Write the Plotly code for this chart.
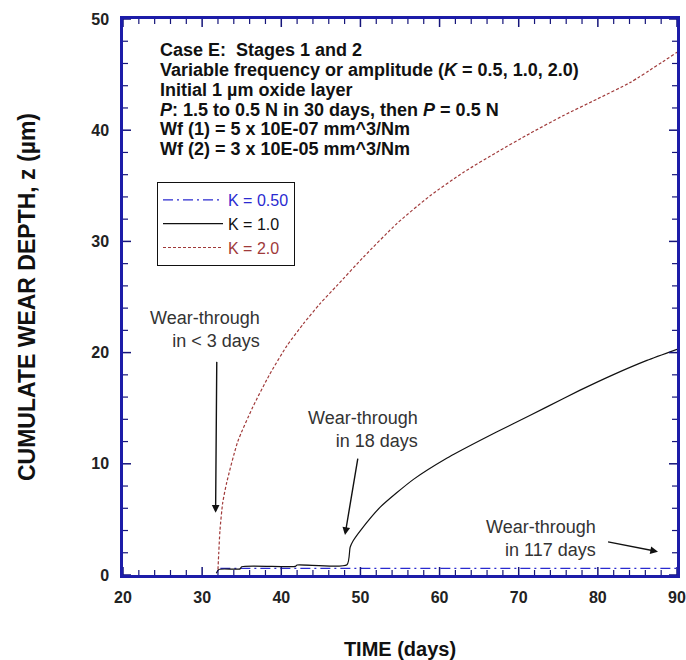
import plotly.graph_objects as go

# ---- data ----
k05_x = [32.3, 90.0]
k05_y = [0.6, 0.6]

k10_x = [31.8, 32.1, 34.8, 35.0, 41.8, 42.0, 48.3, 48.7, 49.1, 50.0, 52.5, 56.7,
         60.9, 65.1, 69.3, 73.5, 77.7, 81.9, 86.2, 90.0]
k10_y = [0.15, 0.5, 0.55, 0.75, 0.78, 0.9, 0.92, 2.5, 3.1, 4.0, 6.1, 8.6,
         10.5, 12.1, 13.6, 15.1, 16.6, 18.0, 19.3, 20.3]

k20_x = [32.0, 32.1, 32.25, 32.6, 33.1, 34.5, 36.4, 38.5, 40.7, 42.8, 44.9, 47.0,
         50.4, 54.6, 58.8, 63.0, 67.2, 71.4, 75.6, 79.9, 84.1, 90.0]
k20_y = [0.5, 2.0, 4.0, 6.5, 8.3, 12.0, 15.1, 18.0, 20.6, 22.6, 24.4, 26.0,
         28.6, 31.6, 34.1, 36.2, 38.0, 39.7, 41.3, 42.8, 44.3, 47.0]

series_names = ["K = 0.50", "K = 1.0", "K = 2.0"]

x_range = [20, 90]
y_range = [0, 50]
x_major = [20, 30, 40, 50, 60, 70, 80, 90]
x_minor = [v for v in range(20, 91, 2) if v not in x_major]
y_major = [0, 10, 20, 30, 40, 50]
y_minor = [v for v in range(0, 51, 2) if v not in y_major]

info_lines = [
    "Case E:  Stages 1 and 2",
    "Variable frequency or amplitude (<i>K</i> = 0.5, 1.0, 2.0)",
    "Initial 1 µm oxide layer",
    "<i>P</i>: 1.5 to 0.5 N in 30 days, then <i>P</i> = 0.5 N",
    "Wf (1) = 5 x 10E-07 mm^3/Nm",
    "Wf (2) = 3 x 10E-05 mm^3/Nm",
]

notes = ["Wear-through<br>in < 3 days", "Wear-through<br>in 18 days", "Wear-through<br>in 117 days"]
note_x = [37.6, 57.5, 80.0]
note_y = [22.1, 13.1, 3.3]
arrow_tail_x = [31.85, 49.7, 81.1]
arrow_tail_y = [19.3, 10.6, 3.0]
arrow_head_x = [31.7, 48.05, 87.6]
arrow_head_y = [5.6, 3.6, 2.1]

FONT = "Liberation Sans, Arial, Helvetica, sans-serif"
AXIS_BLUE = "#1c1ca8"
TICK_COL = "#15157a"
BLUE = "#2a2ad0"
RED = "#a03a3a"

W, H = 686, 660
M = dict(l=123, r=9, t=19, b=85)
plot_w = W - M["l"] - M["r"]
plot_h = H - M["t"] - M["b"]
ux = (x_range[1] - x_range[0]) / plot_w   # data units per pixel
uy = (y_range[1] - y_range[0]) / plot_h

fig = go.Figure()
fig.add_trace(go.Scatter(
    x=k05_x, y=k05_y, mode="lines",
    name=f"<span style='color:{BLUE}'>{series_names[0]}</span>",
    line=dict(color=BLUE, width=1.3, dash="10px,4px,2px,4px")))
fig.add_trace(go.Scatter(
    x=k10_x, y=k10_y, mode="lines",
    name=f"<span style='color:#111111'>{series_names[1]}</span>",
    line=dict(color="#111111", width=1.2, shape="spline", smoothing=0.6)))
fig.add_trace(go.Scatter(
    x=k20_x, y=k20_y, mode="lines",
    name=f"<span style='color:{RED}'>{series_names[2]}</span>",
    line=dict(color=RED, width=1.2, dash="3px,2px", shape="spline", smoothing=0.6)))


def tick_segments(xv, yv, length_px):
    tx, ty = [], []
    dy = length_px * uy
    dx = length_px * ux
    for v in xv:
        tx += [v, v, None, v, v, None]
        ty += [y_range[0], y_range[0] + dy, None, y_range[1] - dy, y_range[1], None]
    for v in yv:
        tx += [x_range[0], x_range[0] + dx, None, x_range[1] - dx, x_range[1], None]
        ty += [v, v, None, v, v, None]
    return tx, ty


for xv, yv, ln, w in [(x_major, y_major, 8, 1.5), (x_minor, y_minor, 5, 1.2)]:
    tx, ty = tick_segments(xv, yv, ln)
    fig.add_trace(go.Scatter(x=tx, y=ty, mode="lines", showlegend=False,
                             hoverinfo="skip", line=dict(color=TICK_COL, width=w)))

ann = []
line_px = [50, 70, 90, 110, 129, 149]
for txt, py in zip(info_lines, line_px):
    ann.append(dict(xref="paper", yref="paper", x=(158 - 123) / 554, y=(575 - py) / 556,
                    xanchor="left", yanchor="middle", text=txt, showarrow=False,
                    font=dict(family=FONT, size=18, color="#111111", weight="bold")))
for t, x, y in zip(notes, note_x, note_y):
    ann.append(dict(xref="x", yref="y", x=x, y=y, text=t, showarrow=False,
                    xanchor="right", yanchor="middle", align="right",
                    font=dict(family=FONT, size=18, color="#333333")))
for tx, ty, hx, hy in zip(arrow_tail_x, arrow_tail_y, arrow_head_x, arrow_head_y):
    ann.append(dict(xref="x", yref="y", axref="x", ayref="y", x=hx, y=hy, ax=tx, ay=ty,
                    text="", showarrow=True, arrowhead=2, arrowsize=1.1, arrowwidth=1.4,
                    arrowcolor="#111111"))

fig.update_layout(
    width=W, height=H,
    margin=M,
    paper_bgcolor="white", plot_bgcolor="white",
    font=dict(family=FONT),
    showlegend=True,
    legend=dict(x=(157 - 123) / 554, y=(575 - 182) / 556, xanchor="left", yanchor="top",
                bordercolor="#111111", borderwidth=1, bgcolor="white",
                font=dict(family=FONT, size=16), tracegroupgap=0, itemwidth=60),
    annotations=ann,
)

for ax_update, rng, tv, title_text, tsize, standoff, lstand in [
    (fig.update_xaxes, x_range, x_major, "TIME (days)", 20, 38, 6),
    (fig.update_yaxes, y_range, y_major, "CUMULATE WEAR DEPTH, z (µm)", 23, 50, 8),
]:
    ax_update(
        range=rng, tickmode="array", tickvals=tv, automargin=False,
        ticks="", showline=True, linecolor=AXIS_BLUE, linewidth=2.5, mirror=True,
        showgrid=False, zeroline=False,
        ticklabelstandoff=lstand,
        tickfont=dict(family=FONT, size=16, color="#222222", weight="bold"),
        title=dict(text=title_text, standoff=standoff,
                   font=dict(family=FONT, size=tsize, color="#111111", weight="bold")),
    )

fig.write_html("out.html")
